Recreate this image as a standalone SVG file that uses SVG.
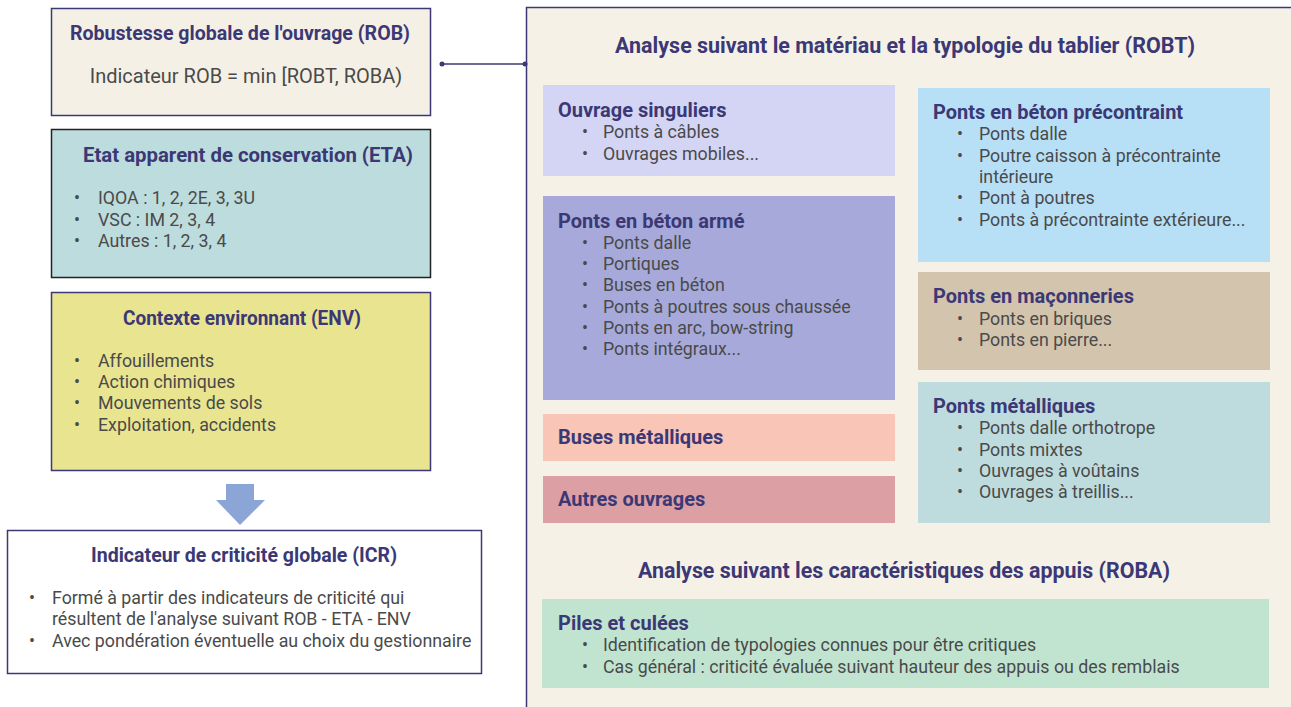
<svg xmlns="http://www.w3.org/2000/svg" width="1291" height="707" viewBox="0 0 1291 707">
<style>
.t{font-family:Roboto,"Liberation Sans",sans-serif;font-weight:bold;font-size:20px;fill:#3b3875}
.h{font-size:21.5px}
.b{font-family:Roboto,"Liberation Sans",sans-serif;font-size:17.8px;fill:#4a4a4a}
.c{text-anchor:middle}
</style>
<rect width="1291" height="707" fill="#ffffff"/>
<g id="robt-frame">
<rect x="526.5" y="7.5" width="800" height="800" fill="#f6f1e6" stroke="#3b3875" stroke-width="1.5"/>
<text class="t h c" x="905" y="53" textLength="580" lengthAdjust="spacingAndGlyphs">Analyse suivant le matériau et la typologie du tablier (ROBT)</text>
<text class="t h c" x="904" y="578" textLength="532" lengthAdjust="spacingAndGlyphs">Analyse suivant les caractéristiques des appuis (ROBA)</text>
</g>
<g id="rob">
<rect x="51.5" y="8.5" width="379" height="107" fill="#f5f0e6" stroke="#3b3875" stroke-width="1.5"/>
<text class="t c" x="240" y="40" textLength="340" lengthAdjust="spacingAndGlyphs">Robustesse globale de l'ouvrage (ROB)</text>
<text class="b c" x="246" y="83" style="font-size:20px">Indicateur ROB = min [ROBT, ROBA)</text>
</g>
<g id="eta">
<rect x="51.5" y="129.5" width="379" height="148" fill="#bddcdd" stroke="#222222" stroke-width="1.5"/>
<text class="t c" x="248" y="162" textLength="330" lengthAdjust="spacingAndGlyphs">Etat apparent de conservation (ETA)</text>
<text class="b" x="74" y="204">•</text><text class="b" x="98" y="204">IQOA : 1, 2, 2E, 3, 3U</text>
<text class="b" x="74" y="226">•</text><text class="b" x="98" y="226">VSC : IM 2, 3, 4</text>
<text class="b" x="74" y="247">•</text><text class="b" x="98" y="247">Autres : 1, 2, 3, 4</text>
</g>
<g id="env">
<rect x="51.5" y="292.5" width="379" height="178" fill="#e8e48f" stroke="#3b3875" stroke-width="1.5"/>
<text class="t c" x="242" y="325" textLength="238" lengthAdjust="spacingAndGlyphs">Contexte environnant (ENV)</text>
<text class="b" x="74" y="367">•</text><text class="b" x="98" y="367">Affouillements</text>
<text class="b" x="74" y="388">•</text><text class="b" x="98" y="388">Action chimiques</text>
<text class="b" x="74" y="409">•</text><text class="b" x="98" y="409">Mouvements de sols</text>
<text class="b" x="74" y="431">•</text><text class="b" x="98" y="431">Exploitation, accidents</text>
</g>
<g id="arrow">
<polygon points="226,484 254,484 254,500 265,500 240,525 216,500 226,500" fill="#8ba6d6"/>
</g>
<g id="icr">
<rect x="7.5" y="530.5" width="474" height="143" fill="#ffffff" stroke="#3b3875" stroke-width="1.5"/>
<text class="t c" x="244" y="562" textLength="306" lengthAdjust="spacingAndGlyphs">Indicateur de criticité globale (ICR)</text>
<text class="b" x="29" y="604">•</text><text class="b" x="52" y="604">Formé à partir des indicateurs de criticité qui</text>
<text class="b" x="52" y="625">résultent de l'analyse suivant ROB - ETA - ENV</text>
<text class="b" x="29" y="647">•</text><text class="b" x="52" y="647">Avec pondération éventuelle au choix du gestionnaire</text>
</g>
<g id="connectors">
<line x1="442" y1="64" x2="525" y2="64" stroke="#3b3875" stroke-width="1.5"/>
<circle cx="442" cy="64" r="2.5" fill="#3b3875"/>
<circle cx="525" cy="64" r="2.5" fill="#3b3875"/>
</g>
<g id="singuliers">
<rect x="543" y="85" width="352" height="91" fill="#d4d5f4"/>
<text class="t" x="558" y="117">Ouvrage singuliers</text>
<text class="b" x="582" y="138">•</text><text class="b" x="603" y="138">Ponts à câbles</text>
<text class="b" x="582" y="160">•</text><text class="b" x="603" y="160">Ouvrages mobiles...</text>
</g>
<g id="beton-arme">
<rect x="543" y="196" width="352" height="204" fill="#a6a9d9"/>
<text class="t" x="558" y="228">Ponts en béton armé</text>
<text class="b" x="582" y="249">•</text><text class="b" x="603" y="249">Ponts dalle</text>
<text class="b" x="582" y="270">•</text><text class="b" x="603" y="270">Portiques</text>
<text class="b" x="582" y="291">•</text><text class="b" x="603" y="291">Buses en béton</text>
<text class="b" x="582" y="313">•</text><text class="b" x="603" y="313">Ponts à poutres sous chaussée</text>
<text class="b" x="582" y="334">•</text><text class="b" x="603" y="334">Ponts en arc, bow-string</text>
<text class="b" x="582" y="355">•</text><text class="b" x="603" y="355">Ponts intégraux...</text>
</g>
<g id="buses">
<rect x="543" y="414" width="352" height="47" fill="#f8c5b6"/>
<text class="t" x="558" y="444">Buses métalliques</text>
</g>
<g id="autres">
<rect x="543" y="476" width="352" height="47" fill="#dca0a4"/>
<text class="t" x="558" y="506">Autres ouvrages</text>
</g>
<g id="precontraint">
<rect x="918" y="88" width="352" height="174" fill="#b7e0f7"/>
<text class="t" x="933" y="119">Ponts en béton précontraint</text>
<text class="b" x="957" y="140">•</text><text class="b" x="979" y="140">Ponts dalle</text>
<text class="b" x="957" y="162">•</text><text class="b" x="979" y="162">Poutre caisson à précontrainte</text>
<text class="b" x="979" y="183">intérieure</text>
<text class="b" x="957" y="204">•</text><text class="b" x="979" y="204">Pont à poutres</text>
<text class="b" x="957" y="226">•</text><text class="b" x="979" y="226">Ponts à précontrainte extérieure...</text>
</g>
<g id="maconneries">
<rect x="918" y="272" width="352" height="98" fill="#d3c4ad"/>
<text class="t" x="933" y="303">Ponts en maçonneries</text>
<text class="b" x="957" y="325">•</text><text class="b" x="979" y="325">Ponts en briques</text>
<text class="b" x="957" y="346">•</text><text class="b" x="979" y="346">Ponts en pierre...</text>
</g>
<g id="metalliques">
<rect x="918" y="382" width="352" height="141" fill="#bedcdd"/>
<text class="t" x="933" y="413">Ponts métalliques</text>
<text class="b" x="957" y="434">•</text><text class="b" x="979" y="434">Ponts dalle orthotrope</text>
<text class="b" x="957" y="456">•</text><text class="b" x="979" y="456">Ponts mixtes</text>
<text class="b" x="957" y="477">•</text><text class="b" x="979" y="477">Ouvrages à voûtains</text>
<text class="b" x="957" y="498">•</text><text class="b" x="979" y="498">Ouvrages à treillis...</text>
</g>
<g id="piles">
<rect x="542" y="599" width="727" height="89" fill="#c1e4d1"/>
<text class="t" x="558" y="630">Piles et culées</text>
<text class="b" x="582" y="651">•</text><text class="b" x="603" y="651">Identification de typologies connues pour être critiques</text>
<text class="b" x="582" y="673">•</text><text class="b" x="603" y="673">Cas général : criticité évaluée suivant hauteur des appuis ou des remblais</text>
</g>
</svg>
